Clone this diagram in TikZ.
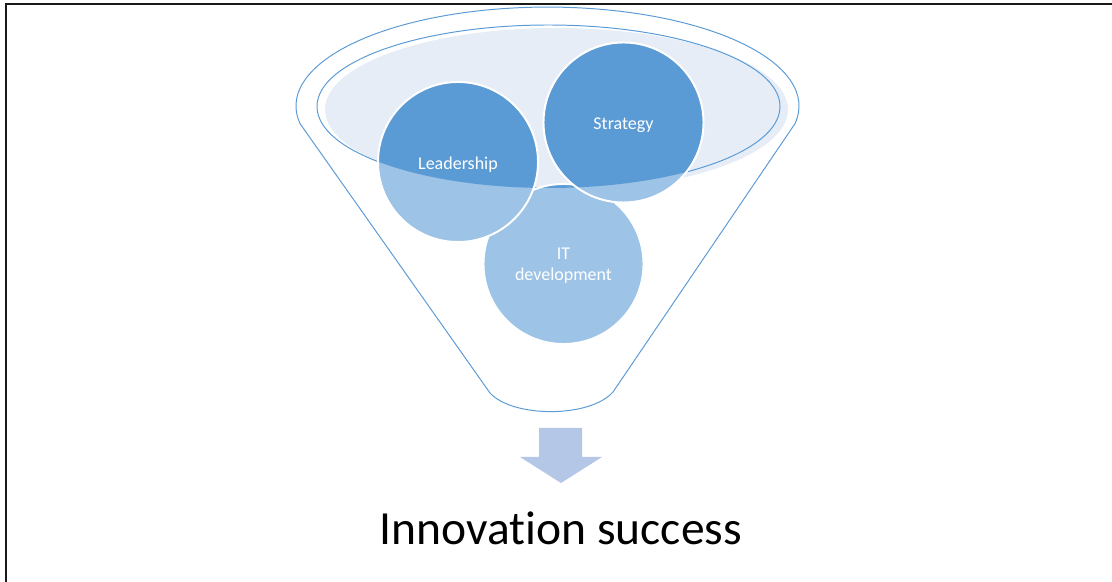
\documentclass[tikz,border=0pt]{standalone}
\usepackage{fontspec}
\setmainfont{Carlito}[RawFeature={-liga}]
\definecolor{rimblue}{HTML}{5B9BD5}
\definecolor{ballblue}{HTML}{9DC3E6}
\definecolor{rimfill}{HTML}{E6EDF7}
\definecolor{arrowblue}{HTML}{B4C7E7}

\begin{document}
\begin{tikzpicture}[
    x=0.025cm, y=-0.025cm,
    % ---- styles -------------------------------------------------
    funnel/.style={draw=rimblue, line width=0.7pt},
    ball/.style={
        circle, minimum size=4cm, inner sep=0pt,
        fill=ballblue, draw=white, line width=1.4pt,
        path picture={\fill[rimblue] (rimc) ellipse [x radius=231.5, y radius=81.5];}},
    lbl/.style={text=white, align=center, font=\fontsize{12.8}{15}\selectfont},
    frame/.style={draw=black!90, line width=1.2pt},
]
\useasboundingbox (0,0) rectangle (1112,582);
\draw[frame] (6,582) |- (1112,4);

% =================== FUNNEL ===================================
\coordinate (rimc) at (548.5,106.5);
\draw[funnel] (490,393) -- (300,123.6)
    arc [start angle=169.8, end angle=370.2, x radius=251.5, y radius=99]
    -- (613,392) .. controls (590,418) and (513,418) .. (490,393);
\fill[rimfill] ([shift={(8,3)}]rimc) ellipse [x radius=231.5, y radius=81.5];
\draw[funnel] (rimc) ellipse [x radius=231.5, y radius=81.5];

% =================== BALLS ====================================
\node[ball] (itdev) at (563.5,264) {};
\node[ball] (lead)  at (458,162)   {};
\node[ball] (strat) at (623.5,122.5) {};

\node[lbl] at ([yshift=-2]lead)  {Leadership};
\node[lbl] at ([yshift=-2]strat) {Strategy};
\node[lbl] at ([yshift=-1]itdev) {IT\\development};

% =================== OUTCOME ==================================
\fill[arrowblue] (539,428) -- (582,428) -- (582,457) -- (602,457)
    -- (561,483) -- (520,457) -- (539,457) -- cycle;
\node[anchor=base, font=\fontsize{33.8}{40}\selectfont] (result) at (561,545)
    {Innovation success};

\end{tikzpicture}
\end{document}
